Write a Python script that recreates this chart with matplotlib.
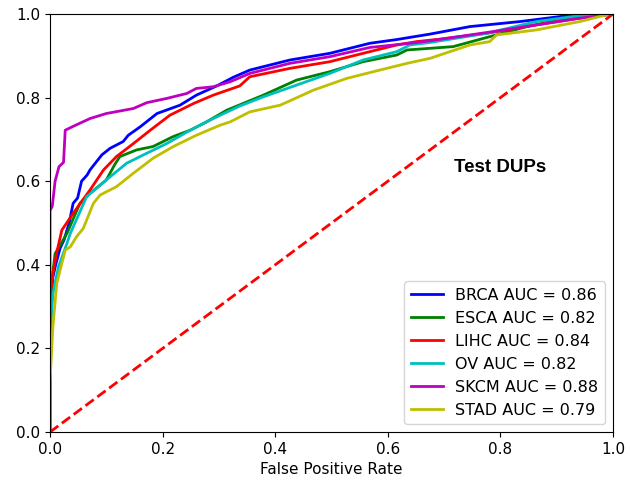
import numpy as np
import matplotlib
matplotlib.use("Agg")
import matplotlib.pyplot as plt

# ROC curves (FPR, TPR)
brca_fpr = [0, 0, 0.005, 0.01, 0.018, 0.025, 0.034, 0.041, 0.049, 0.056, 0.066, 0.071, 0.092, 0.107, 0.13, 0.139,
            0.16, 0.19, 0.231, 0.26, 0.296, 0.326, 0.355, 0.426, 0.497, 0.568, 0.616, 0.675, 0.746, 0.835, 0.906, 0.95, 1]
brca_tpr = [0, 0.28, 0.37, 0.40, 0.44, 0.46, 0.50, 0.547, 0.56, 0.60, 0.615, 0.627, 0.663, 0.679, 0.695, 0.71,
            0.73, 0.762, 0.782, 0.806, 0.828, 0.849, 0.866, 0.89, 0.906, 0.93, 0.939, 0.952, 0.97, 0.982, 0.994, 1.0, 1]

esca_fpr = [0, 0, 0.005, 0.009, 0.015, 0.03, 0.053, 0.07, 0.1, 0.115, 0.124, 0.154, 0.183, 0.219, 0.249, 0.278,
            0.314, 0.379, 0.438, 0.497, 0.556, 0.616, 0.634, 0.716, 0.776, 0.847, 0.918, 0.97, 1]
esca_tpr = [0, 0.3, 0.38, 0.427, 0.44, 0.475, 0.547, 0.57, 0.603, 0.64, 0.659, 0.675, 0.683, 0.707, 0.722, 0.742,
            0.77, 0.806, 0.842, 0.862, 0.886, 0.902, 0.914, 0.922, 0.944, 0.97, 0.99, 1.0, 1]

lihc_fpr = [0, 0, 0.005, 0.012, 0.021, 0.041, 0.071, 0.095, 0.118, 0.148, 0.178, 0.213, 0.255, 0.29, 0.337, 0.355,
            0.426, 0.497, 0.568, 0.616, 0.651, 0.693, 0.776, 0.864, 0.94, 1]
lihc_tpr = [0, 0.32, 0.38, 0.43, 0.483, 0.523, 0.579, 0.627, 0.659, 0.69, 0.722, 0.758, 0.786, 0.806, 0.828, 0.85,
            0.87, 0.886, 0.91, 0.926, 0.934, 0.94, 0.954, 0.974, 0.99, 1]

ov_fpr = [0, 0, 0.005, 0.015, 0.03, 0.036, 0.065, 0.1, 0.136, 0.172, 0.207, 0.249, 0.29, 0.337, 0.379, 0.438,
          0.497, 0.556, 0.616, 0.639, 0.675, 0.776, 0.864, 0.929, 1]
ov_tpr = [0, 0.22, 0.33, 0.395, 0.451, 0.475, 0.563, 0.603, 0.643, 0.667, 0.69, 0.722, 0.75, 0.78, 0.802, 0.83,
          0.858, 0.89, 0.91, 0.926, 0.932, 0.954, 0.982, 0.994, 1]

skcm_fpr = [0, 0, 0.004, 0.009, 0.016, 0.024, 0.027, 0.039, 0.071, 0.10, 0.148, 0.172, 0.207, 0.243, 0.26, 0.29,
            0.32, 0.355, 0.426, 0.497, 0.568, 0.639, 0.675, 0.787, 0.864, 0.941, 1]
skcm_tpr = [0, 0.53, 0.54, 0.6, 0.635, 0.645, 0.722, 0.73, 0.75, 0.762, 0.774, 0.788, 0.798, 0.81, 0.822, 0.826,
            0.838, 0.858, 0.882, 0.898, 0.92, 0.93, 0.936, 0.958, 0.974, 0.99, 1]

stad_fpr = [0, 0, 0.005, 0.012, 0.027, 0.036, 0.047, 0.059, 0.077, 0.089, 0.118, 0.148, 0.183, 0.219, 0.26, 0.302,
            0.32, 0.355, 0.409, 0.468, 0.527, 0.586, 0.634, 0.675, 0.746, 0.781, 0.793, 0.864, 0.941, 0.988, 1]
stad_tpr = [0, 0.12, 0.25, 0.356, 0.435, 0.443, 0.467, 0.487, 0.547, 0.567, 0.587, 0.619, 0.655, 0.683, 0.71, 0.734,
            0.742, 0.766, 0.782, 0.818, 0.846, 0.866, 0.882, 0.894, 0.926, 0.934, 0.95, 0.962, 0.982, 0.998, 1]

names = ['BRCA', 'ESCA', 'LIHC', 'OV', 'SKCM', 'STAD']
aucs = [0.86, 0.82, 0.84, 0.82, 0.88, 0.79]
colors = ['b', 'g', 'r', 'c', 'm', 'y']
curves = [(brca_fpr, brca_tpr), (esca_fpr, esca_tpr), (lihc_fpr, lihc_tpr),
          (ov_fpr, ov_tpr), (skcm_fpr, skcm_tpr), (stad_fpr, stad_tpr)]

fig = plt.figure(figsize=(6.3, 4.84), dpi=100)
ax = fig.add_axes([0.0794, 0.1074, 0.8936, 0.8636])

for (fpr, tpr), name, auc, c in zip(curves, names, aucs, colors):
    ax.plot(fpr, tpr, color=c, lw=2, label='%s AUC = %0.2f' % (name, auc))

ax.plot([0, 1], [0, 1], 'r--', lw=2)
ax.set_xlim([0.0, 1.0])
ax.set_ylim([0.0, 1.0])
ax.set_xlabel('False Positive Rate', fontsize=11)
ax.tick_params(labelsize=11)
ax.text(0.8, 0.632, 'Test DUPs', fontsize=13.5, fontweight='bold',
        family='Liberation Sans', ha='center', va='center')
ax.legend(loc='lower right', fontsize=11.5)

fig.savefig('out.png', dpi=100)
